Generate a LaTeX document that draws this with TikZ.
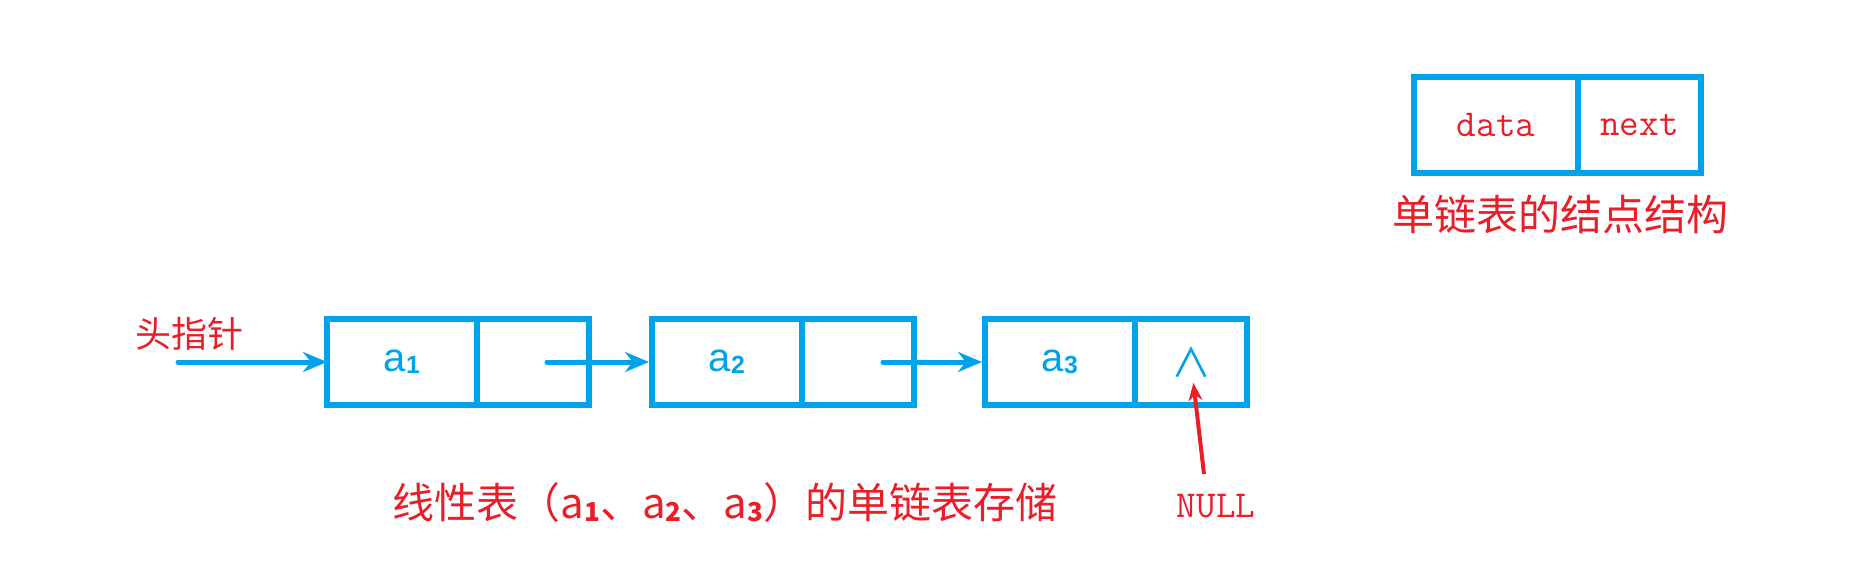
\documentclass[tikz,border=0pt]{standalone}
\usepackage{fontspec}
\usepackage{tikz}
\usetikzlibrary{arrows.meta}
\newfontfamily\cjk{Noto Sans CJK SC}
\newfontfamily\lsans{Liberation Sans}
\definecolor{linkblue}{RGB}{0,162,232}
\definecolor{linkred}{RGB}{234,30,40}
\newcommand\idx[1]{\raisebox{-0.06em}{\scalebox{0.62}{\bfseries #1}}}
\tikzset{
  field/.style={draw=linkblue,line width=6pt,rectangle,inner sep=0pt,outer sep=0pt,minimum height=86pt},
  datafield/.style={field,minimum width=150pt},
  nextfield/.style={field,minimum width=112pt},
  elem/.style={text=linkblue,font=\lsans\fontsize{40}{48}\selectfont},
  ptr/.style={draw=linkblue,line width=5pt,line cap=round,-{Stealth[length=24pt,width=20pt]}},
  nullptr/.style={draw=linkred,line width=4pt,-{Stealth[length=18pt,width=14pt]}},
  redcjk/.style={text=linkred,font=\cjk\fontsize{#1}{#1}\selectfont},
  redlatin/.style={text=linkred,font=\ttfamily\fontsize{38}{42}\selectfont}
}

\begin{document}
\begin{tikzpicture}[scale=1.000000,x=1pt,y=1pt]
\useasboundingbox (0.000000,0.000000) rectangle (1871.000000,582.000000);
% Drawing list nodes
% Node 1: a1
\node[datafield,elem] (a1d) at (402.000000,220.000000) {a\idx{1}};
\node[nextfield] (a1n) at (533.000000,220.000000) {};
% Node 2: a2
\node[datafield,elem] (a2d) at (727.000000,220.000000) {a\idx{2}};
\node[nextfield] (a2n) at (858.000000,220.000000) {};
% Node 3: a3, next is NULL
\node[datafield,elem] (a3d) at (1060.000000,220.000000) {a\idx{3}};
\node[nextfield,text=linkblue,font=\cjk\fontsize{40}{40}\selectfont] (a3n) at (1191.000000,220.000000) {∧};
% Done with list nodes; drawing pointers
\coordinate (head) at (178.000000,220.000000);
\node[redcjk=36] (headlabel) at (189.000000,248.000000) {头指针};
\draw[ptr] (head) -- (a1d.west);
\draw[ptr,shorten >=3pt] ([xshift=14pt]a1n.center) -- (a2d.west);
\draw[ptr,shorten >=3pt] ([xshift=25pt]a2n.center) -- (a3d.west);
% Done with pointers; drawing NULL
\node[redlatin] (nul) at (1216.000000,76.000000) {NULL};
\coordinate (nulltail) at (1204.000000,108.000000);
\draw[nullptr,shorten >=21pt] (nulltail) -- (a3n.center);
% Done with NULL; drawing node structure
\node[field,minimum width=164pt,minimum height=95.500000pt,redlatin] (sd) at (1496.000000,456.750000) {data};
\node[field,minimum width=123pt,minimum height=95.500000pt,redlatin] (sn) at (1639.500000,456.750000) {next};
\node[redcjk=42] (structlabel) at (1560.000000,368.000000) {单链表的结点结构};
% Done with structure; drawing caption
\node[redcjk=42] (caption) at (725.000000,79.000000) {线性表（a\idx{1}、a\idx{2}、a\idx{3}）的单链表存储};
% Done with caption
\end{tikzpicture}
\end{document}
